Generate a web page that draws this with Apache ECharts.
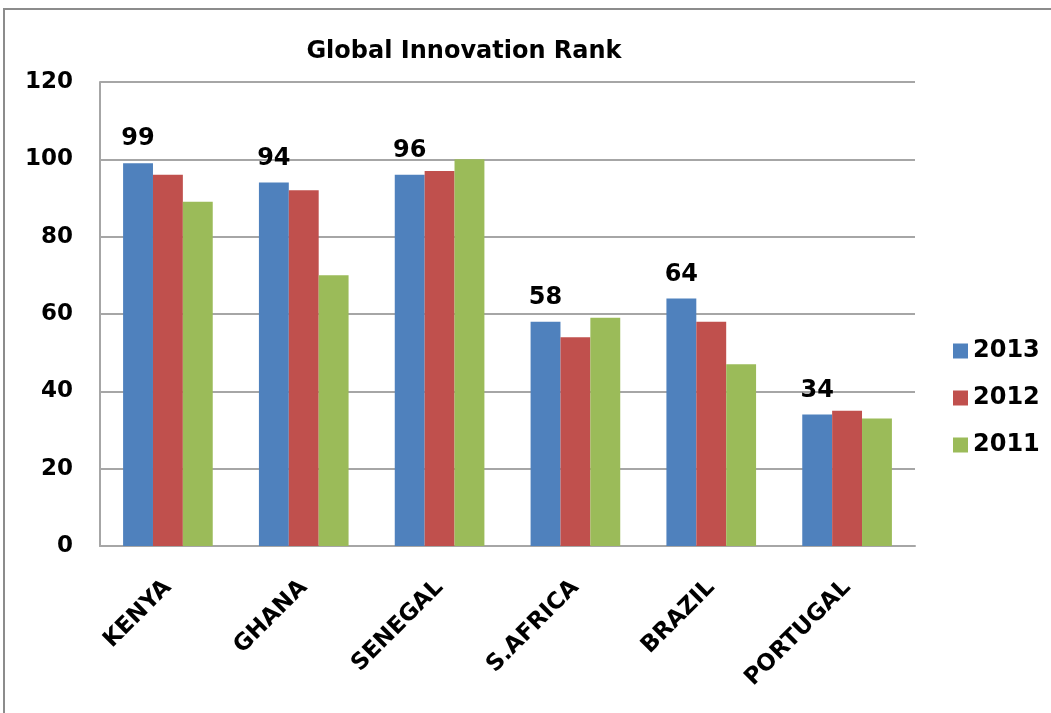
<!DOCTYPE html>
<html>
<head>
<meta charset="utf-8">
<script src="https://cdn.jsdelivr.net/npm/echarts@6/dist/echarts.min.js"></script>
<style>
  html, body { margin: 0; padding: 0; background: #fff; }
  #chart { width: 1051px; height: 713px; }
</style>
</head>
<body>
<div id="chart"></div>
<script>
// Global Innovation Rank by country, 2011–2013
const countries = ['KENYA', 'GHANA', 'SENEGAL', 'S.AFRICA', 'BRAZIL', 'PORTUGAL'];
const rank2013 = [99, 94, 96, 58, 64, 34];
const rank2012 = [96, 92, 97, 54, 58, 35];
const rank2011 = [89, 70, 100, 59, 47, 33];
const yTicks = [0, 20, 40, 60, 80, 100, 120];

const FONT = '"DejaVu Sans", Verdana, sans-serif';
const chart = echarts.init(document.getElementById('chart'), null, { renderer: 'canvas' });

chart.setOption({
  backgroundColor: '#fff',
  animation: false,
  textStyle: { fontFamily: FONT },
  graphic: [{
    type: 'polyline',
    shape: { points: [[4, 713], [4, 9], [1051, 9]] },
    style: { stroke: '#8c8c8c', lineWidth: 2, fill: null },
    silent: true
  }],
  title: {
    text: 'Global Innovation Rank',
    left: 459,
    textAlign: 'center',
    top: 35,
    textStyle: { fontFamily: FONT, fontWeight: 'bold', fontSize: 24, color: '#000' }
  },
  legend: {
    orient: 'vertical',
    left: 948,
    top: 334,
    itemWidth: 15,
    itemHeight: 15,
    itemGap: 23,
    icon: 'rect',
    textStyle: { fontFamily: FONT, fontWeight: 'bold', fontSize: 24, color: '#000' },
    data: ['2013', '2012', '2011']
  },
  grid: { left: 100, right: 136, top: 82, bottom: 167, containLabel: false },
  xAxis: {
    type: 'category',
    data: countries,
    axisLine: { lineStyle: { color: '#a6a6a6', width: 2 } },
    axisTick: { show: false },
    axisLabel: {
      rotate: 45,
      margin: 38,
      fontFamily: FONT,
      fontWeight: 'bold',
      fontSize: 23,
      color: '#000'
    }
  },
  yAxis: {
    type: 'value',
    min: 0,
    max: 120,
    interval: 20,
    axisLine: { show: true, lineStyle: { color: '#a6a6a6', width: 2 } },
    axisTick: { show: false },
    splitLine: { lineStyle: { color: '#a6a6a6', width: 2 } },
    axisLabel: {
      margin: 27,
      fontFamily: FONT,
      fontWeight: 'bold',
      fontSize: 23,
      color: '#000',
      formatter: v => (yTicks.includes(v) ? String(v) : '')
    }
  },
  series: [
    {
      name: '2013', type: 'bar', data: rank2013,
      barGap: '0%', barCategoryGap: '34%',
      itemStyle: { color: '#4f81bd' },
      label: {
        show: true, position: 'top', distance: 12,
        fontFamily: FONT, fontWeight: 'bold', fontSize: 24, color: '#000'
      }
    },
    {
      name: '2012', type: 'bar', data: rank2012,
      barGap: '0%', barCategoryGap: '34%',
      itemStyle: { color: '#c0504d' }
    },
    {
      name: '2011', type: 'bar', data: rank2011,
      barGap: '0%', barCategoryGap: '34%',
      itemStyle: { color: '#9bbb59' }
    }
  ]
});
</script>
</body>
</html>
